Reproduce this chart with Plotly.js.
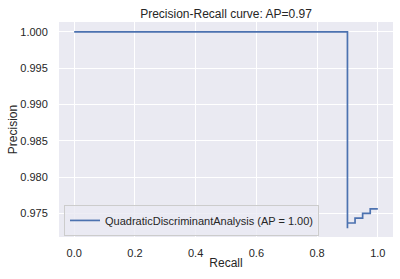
<!DOCTYPE html>
<html>
<head>
<meta charset="utf-8">
<script src="https://cdn.plot.ly/plotly-3.0.1.min.js"></script>
<style>html,body{margin:0;padding:0;background:#fff;}#chart{width:400px;height:279px;}</style>
</head>
<body>
<div id="chart"></div>
<script>
// Precision-recall points (sklearn order: recall descending), drawn as steps-post
const recall = [1.0, 0.975, 0.95, 0.925, 0.9, 0.9, 0.0];
const precision = [0.97561, 0.975, 0.97436, 0.97368, 0.97297, 1.0, 1.0];
const seriesName = "QuadraticDiscriminantAnalysis (AP = 1.00)";
const chartTitle = "Precision-Recall curve: AP=0.97";
const xTicks = [0.0, 0.2, 0.4, 0.6, 0.8, 1.0];
const xTickText = ["0.0", "0.2", "0.4", "0.6", "0.8", "1.0"];
const yTicks = [0.975, 0.980, 0.985, 0.990, 0.995, 1.000];
const yTickText = ["0.975", "0.980", "0.985", "0.990", "0.995", "1.000"];

const font = "Liberation Sans, Arial, Helvetica, sans-serif";
const trace = {
  x: recall, y: precision, type: "scatter", mode: "lines",
  line: {shape: "hv", color: "#4C72B0", width: 1.7},
  name: seriesName, showlegend: true
};
const layout = {
  width: 400, height: 279,
  margin: {l: 59, r: 7, t: 22, b: 42},
  paper_bgcolor: "#ffffff", plot_bgcolor: "#EAEAF2",
  font: {family: font, color: "#262626", size: 11},
  title: {text: chartTitle, x: 0.5, xref: "paper", xanchor: "center", y: 0.952, yref: "container", yanchor: "middle", font: {size: 12, color: "#262626"}},
  xaxis: {
    range: [-0.05, 1.05], tickvals: xTicks, ticktext: xTickText,
    showgrid: true, gridcolor: "#ffffff", gridwidth: 1, zeroline: false, showline: false,
    ticks: "outside", ticklen: 6, tickcolor: "rgba(0,0,0,0)",
    tickfont: {size: 11, color: "#262626"},
    title: {text: "Recall", font: {size: 12, color: "#262626"}, standoff: 0}
  },
  yaxis: {
    range: [0.97175, 1.00135], tickvals: yTicks, ticktext: yTickText,
    showgrid: true, gridcolor: "#ffffff", gridwidth: 1, zeroline: false, showline: false,
    ticks: "outside", ticklen: 8, tickcolor: "rgba(0,0,0,0)",
    tickfont: {size: 11, color: "#262626"},
    title: {text: "Precision", font: {size: 12, color: "#262626"}, standoff: 0}
  },
  legend: {
    x: 0.015, y: 0.005, xanchor: "left", yanchor: "bottom",
    bgcolor: "rgba(234,234,242,0.8)", bordercolor: "#cccccc", borderwidth: 1,
    font: {size: 11, color: "#262626"}, itemwidth: 30, tracegroupgap: 0
  }
};
Plotly.newPlot("chart", [trace], layout, {staticPlot: true, displayModeBar: false});
</script>
</body>
</html>
